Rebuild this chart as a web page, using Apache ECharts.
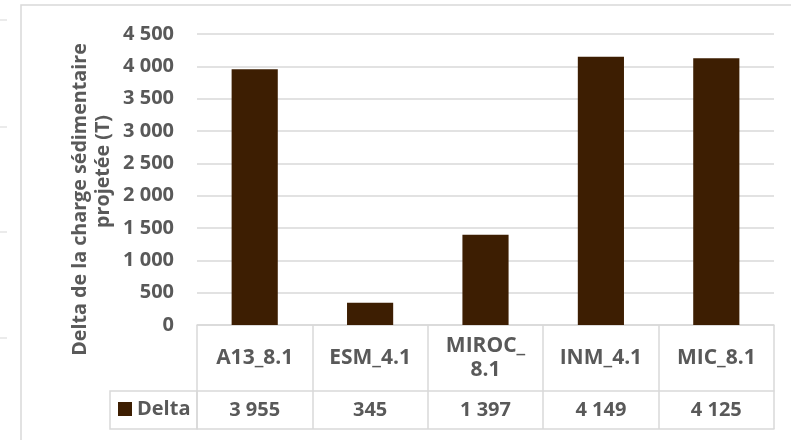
<!DOCTYPE html>
<html>
<head>
<meta charset="utf-8">
<script src="https://cdn.jsdelivr.net/npm/echarts@6/dist/echarts.min.js"></script>
<style>
  html, body { margin: 0; padding: 0; background: #ffffff; }
  #chart { width: 791px; height: 440px; }
</style>
</head>
<body>
<div id="chart"></div>
<script>
// Projected sediment load delta per climate model
const categories = ['A13_8.1', 'ESM_4.1', 'MIROC_8.1', 'INM_4.1', 'MIC_8.1'];
const seriesName = 'Delta';
const deltaValues = [3955, 345, 1397, 4149, 4125];
const yTicks = [0, 500, 1000, 1500, 2000, 2500, 3000, 3500, 4000, 4500];

const FONT = '"Open Sans", "Noto Sans", sans-serif';
const TEXT = '#595959';
const LINE = '#d9d9d9';
const BAR = '#3d1e02';

// thousands separated by a space, e.g. 3 955
function fmt(v) {
  return String(v).replace(/\B(?=(\d{3})+(?!\d))/g, ' ');
}

const chart = echarts.init(document.getElementById('chart'), null, { renderer: 'canvas' });

const baseLabel = { fontFamily: FONT, fontWeight: 'bold', fontSize: 20, color: TEXT };

chart.setOption({
  animation: false,
  backgroundColor: '#ffffff',
  grid: { left: 197, right: 17, top: 34, bottom: 115, containLabel: false },
  legend: {
    data: [seriesName],
    left: 118, top: 399,
    icon: 'rect', itemWidth: 14, itemHeight: 14, padding: 0,
    textStyle: Object.assign({}, baseLabel, { padding: [0, 0, 0, 0] })
  },
  xAxis: [
    {
      // header row of the data table (model names)
      type: 'category',
      data: categories,
      position: 'bottom',
      axisLine: { show: true, lineStyle: { color: LINE, width: 1.5 } },
      axisTick: { show: true, length: 104, inside: false, lineStyle: { color: LINE, width: 1.5 } },
      axisLabel: Object.assign({}, baseLabel, {
        fontSize: 21,
        interval: 0, margin: 33, verticalAlign: 'middle', lineHeight: 24,
        formatter: v => (v.length > 8 ? v.replace('_', '_\n') : v)
      })
    },
    {
      // value row of the data table
      type: 'category',
      data: categories,
      position: 'bottom',
      offset: 66,
      axisLine: { show: true, lineStyle: { color: LINE, width: 1.5 } },
      axisTick: { show: false },
      axisLabel: Object.assign({}, baseLabel, {
        interval: 0, margin: 19, verticalAlign: 'middle',
        formatter: (v, i) => fmt(deltaValues[i])
      })
    },
    {
      // bottom rule of the data table
      type: 'category',
      data: categories,
      position: 'bottom',
      offset: 104,
      axisLine: { show: true, lineStyle: { color: LINE, width: 1.5 } },
      axisTick: { show: false },
      axisLabel: { show: false }
    }
  ],
  yAxis: {
    type: 'value',
    min: yTicks[0],
    max: yTicks[yTicks.length - 1],
    interval: yTicks[1] - yTicks[0],
    axisLine: { show: false },
    axisTick: { show: false },
    splitLine: { lineStyle: { color: LINE, width: 1.5 } },
    axisLabel: Object.assign({}, baseLabel, { margin: 23, formatter: v => fmt(v) })
  },
  series: [{
    name: seriesName,
    type: 'bar',
    data: deltaValues,
    barWidth: '40%',
    itemStyle: { color: BAR }
  }],
  graphic: [
    // chart frame
    { type: 'rect', shape: { x: 21, y: 5, width: 900, height: 600 },
      style: { fill: null, stroke: LINE, lineWidth: 1.5 }, silent: true, z: -1 },
    // legend cell of the data table
    { type: 'rect', shape: { x: 110, y: 391, width: 87, height: 38 },
      style: { fill: null, stroke: LINE, lineWidth: 1.5 }, silent: true },
    // axis title, two lines
    { type: 'text', x: 80, y: 199.5, rotation: Math.PI / 2,
      style: { text: 'Delta de la charge sédimentaire', font: 'bold 19.7px ' + FONT, fill: TEXT,
               textAlign: 'center', textVerticalAlign: 'middle' } },
    { type: 'text', x: 103, y: 171.5, rotation: Math.PI / 2,
      style: { text: 'projetée (T)', font: 'bold 19.7px ' + FONT, fill: TEXT,
               textAlign: 'center', textVerticalAlign: 'middle' } },
    // faint ticks along the left margin
    { type: 'line', shape: { x1: 0, y1: 20, x2: 7, y2: 20 }, style: { stroke: '#e4e4e4', lineWidth: 1.5 } },
    { type: 'line', shape: { x1: 0, y1: 127, x2: 7, y2: 127 }, style: { stroke: '#e4e4e4', lineWidth: 1.5 } },
    { type: 'line', shape: { x1: 0, y1: 232, x2: 7, y2: 232 }, style: { stroke: '#e4e4e4', lineWidth: 1.5 } },
    { type: 'line', shape: { x1: 0, y1: 338, x2: 7, y2: 338 }, style: { stroke: '#e4e4e4', lineWidth: 1.5 } }
  ]
});
</script>
</body>
</html>
